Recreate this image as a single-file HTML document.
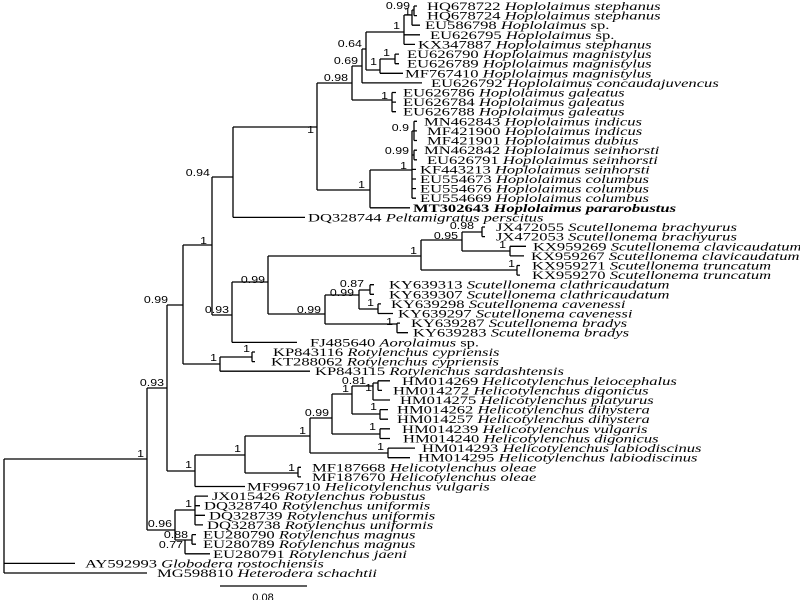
<!DOCTYPE html>
<html><head><meta charset="utf-8"><style>
html,body{margin:0;padding:0;background:#fff;}
svg{display:block;}
.t text{font-family:"Liberation Serif",serif;font-size:12px;fill:#000;transform-box:fill-box;transform-origin:0% 50%;transform:scaleX(1.38);}
.t tspan.i{font-style:italic;}
.s text{font-family:"Liberation Sans",sans-serif;font-size:10.5px;fill:#000;text-anchor:end;transform-box:fill-box;transform-origin:100% 50%;transform:scaleX(1.18);}
</style></head><body>
<svg width="800" height="600" viewBox="0 0 800 600" xmlns="http://www.w3.org/2000/svg">
<g fill="none" stroke="#000" stroke-width="1.3">
<path d="M212 177V315M212 177H233M233 127V217.4M233 217.4H305M233 127H317M317 83V190
M317 83H352M352 66V100M352 100H392M392 92.5V111.7M392 92.5H396M392 102.1H396M392 111.7H396
M352 66H362M362 49V82.9M362 82.9H422
M362 49H366M366 32V70M366 70H380M380 59V73.3M380 59H395M395 54.1V63.7M395 54.1H399M395 63.7H399M380 73.3H403
M366 32H404M404 15V44.4M404 44.4H415M404 34.8H420M404 15H412M412 10V25.2M412 25.2H420M412 10H414M414 6V15.6M414 6H417M414 15.6H417
M317 190H370M370 170V207.8M370 207.8H410M370 170H412M412 131V198.2
M412 169.4H416M412 179H416M412 188.6H416M412 198.2H416
M412 131H414M414 121.3V140.5M414 121.3H417M414 130.9H417M414 140.5H417
M412 155H414M414 150.2V159.8M414 150.2H417M414 159.8H417"/>
<path d="M183 245V364M183 245H212M167 305H183M167 305V471
M212 315H232M232 282V342.4M232 342.4H297M232 282H268M268 256V314
M268 256H421M421 240V270M421 240H462M462 232V251M462 232H482M482 227V236.6M482 227H485M482 236.6H485
M462 251H510M510 246.3V255.9M510 246.3H526M510 255.9H524M421 270H517M517 265.5V275.1M517 265.5H520M517 275.1H520
M268 314H325M325 295V324M325 295H359M359 290V309M359 290H370M370 284.7V294.3M370 284.7H374M370 294.3H374
M359 309H378M378 303.9V313.5M378 303.9H381M378 313.5H393
M325 324H397M397 323.1V332.7M397 323.1H400M397 332.7H408
M183 364H220M220 357V371.2M220 357H252M252 352V361.6M252 352H255M252 361.6H255M220 371.2H310"/>
<path d="M147 388H167M147 388V530M4 459H147M4 459V573M4 563.4H75M4 573H147
M167 471H195M195 455V486.5M195 486.5H245M195 455H245M245 436V473M245 473H298M298 467.3V476.9M298 467.3H301M298 476.9H301
M245 436H310M310 418V453M310 453H388M388 448.1V457.7M388 448.1H415M388 457.7H410
M310 418H332M332 394V434M332 434H380M380 428.8V438.5M380 428.8H390M380 438.5H390
M332 394H352M352 386V414M352 414H380M380 409.6V419.2M380 409.6H388M380 419.2H388
M352 386H373M373 383V400M373 400H390M373 383H378M378 380.8V390.4M378 380.8H390M378 390.4H382
M147 530H175M175 510V540M175 510H195M195 496.1V524.9M195 496.1H208M195 505.7H200M195 515.3H205M195 524.9H203
M175 540H185M185 540V553.8M185 553.8H210M185 540H192M192 534.6V544.2M192 534.6H196M192 544.2H196
M220 586H307"/>
</g>
<g class="t">
<text x="427" y="10">HQ678722 <tspan class="i">Hoplolaimus stephanus</tspan></text>
<text x="427" y="19.6">HQ678724 <tspan class="i">Hoplolaimus stephanus</tspan></text>
<text x="425" y="29.2">EU586798 <tspan class="i">Hoplolaimus</tspan> sp.</text>
<text x="430" y="38.8">EU626795 <tspan class="i">Hoplolaimus</tspan> sp.</text>
<text x="418" y="48.4">KX347887 <tspan class="i">Hoplolaimus stephanus</tspan></text>
<text x="407" y="58.1">EU626790 <tspan class="i">Hoplolaimus magnistylus</tspan></text>
<text x="407" y="67.7">EU626789 <tspan class="i">Hoplolaimus magnistylus</tspan></text>
<text x="405" y="77.3">MF767410 <tspan class="i">Hoplolaimus magnistylus</tspan></text>
<text x="431" y="86.9">EU626792 <tspan class="i">Hoplolaimus concaudajuvencus</tspan></text>
<text x="403" y="96.5">EU626786 <tspan class="i">Hoplolaimus galeatus</tspan></text>
<text x="403" y="106.1">EU626784 <tspan class="i">Hoplolaimus galeatus</tspan></text>
<text x="403" y="115.7">EU626788 <tspan class="i">Hoplolaimus galeatus</tspan></text>
<text x="424" y="125.3">MN462843 <tspan class="i">Hoplolaimus indicus</tspan></text>
<text x="427" y="134.9">MF421900 <tspan class="i">Hoplolaimus indicus</tspan></text>
<text x="427" y="144.5">MF421901 <tspan class="i">Hoplolaimus dubius</tspan></text>
<text x="424" y="154.2">MN462842 <tspan class="i">Hoplolaimus seinhorsti</tspan></text>
<text x="427" y="163.8">EU626791 <tspan class="i">Hoplolaimus seinhorsti</tspan></text>
<text x="420" y="173.4">KF443213 <tspan class="i">Hoplolaimus seinhorsti</tspan></text>
<text x="420" y="183">EU554673 <tspan class="i">Hoplolaimus columbus</tspan></text>
<text x="420" y="192.6">EU554676 <tspan class="i">Hoplolaimus columbus</tspan></text>
<text x="420" y="202.2">EU554669 <tspan class="i">Hoplolaimus columbus</tspan></text>
<text x="413" y="211.8" font-weight="bold">MT302643 <tspan class="i">Hoplolaimus pararobustus</tspan></text>
<text x="308" y="221.4">DQ328744 <tspan class="i">Peltamigratus perscitus</tspan></text>
<text x="496" y="231">JX472055 <tspan class="i">Scutellonema brachyurus</tspan></text>
<text x="496" y="240.6">JX472053 <tspan class="i">Scutellonema brachyurus</tspan></text>
<text x="533" y="250.3">KX959269 <tspan class="i">Scutellonema clavicaudatum</tspan></text>
<text x="531" y="259.9">KX959267 <tspan class="i">Scutellonema clavicaudatum</tspan></text>
<text x="532" y="269.5">KX959271 <tspan class="i">Scutellonema truncatum</tspan></text>
<text x="532" y="279.1">KX959270 <tspan class="i">Scutellonema truncatum</tspan></text>
<text x="389" y="288.7">KY639313 <tspan class="i">Scutellonema clathricaudatum</tspan></text>
<text x="389" y="298.3">KY639307 <tspan class="i">Scutellonema clathricaudatum</tspan></text>
<text x="391" y="307.9">KY639298 <tspan class="i">Scutellonema cavenessi</tspan></text>
<text x="398" y="317.5">KY639297 <tspan class="i">Scutellonema cavenessi</tspan></text>
<text x="411" y="327.1">KY639287 <tspan class="i">Scutellonema bradys</tspan></text>
<text x="413" y="336.7">KY639283 <tspan class="i">Scutellonema bradys</tspan></text>
<text x="310" y="346.4">FJ485640 <tspan class="i">Aorolaimus</tspan> sp.</text>
<text x="273" y="356">KP843116 <tspan class="i">Rotylenchus cypriensis</tspan></text>
<text x="271" y="365.6">KT288062 <tspan class="i">Rotylenchus cypriensis</tspan></text>
<text x="315" y="375.2">KP843115 <tspan class="i">Rotylenchus sardashtensis</tspan></text>
<text x="402" y="384.8">HM014269 <tspan class="i">Helicotylenchus leiocephalus</tspan></text>
<text x="393" y="394.4">HM014272 <tspan class="i">Helicotylenchus digonicus</tspan></text>
<text x="400" y="404">HM014275 <tspan class="i">Helicotylenchus platyurus</tspan></text>
<text x="397" y="413.6">HM014262 <tspan class="i">Helicotylenchus dihystera</tspan></text>
<text x="397" y="423.2">HM014257 <tspan class="i">Helicotylenchus dihystera</tspan></text>
<text x="402" y="432.8">HM014239 <tspan class="i">Helicotylenchus vulgaris</tspan></text>
<text x="403" y="442.5">HM014240 <tspan class="i">Helicotylenchus digonicus</tspan></text>
<text x="422" y="452.1">HM014293 <tspan class="i">Helicotylenchus labiodiscinus</tspan></text>
<text x="418" y="461.7">HM014295 <tspan class="i">Helicotylenchus labiodiscinus</tspan></text>
<text x="312" y="471.3">MF187668 <tspan class="i">Helicotylenchus oleae</tspan></text>
<text x="312" y="480.9">MF187670 <tspan class="i">Helicotylenchus oleae</tspan></text>
<text x="247" y="490.5">MF996710 <tspan class="i">Helicotylenchus vulgaris</tspan></text>
<text x="212" y="500.1">JX015426 <tspan class="i">Rotylenchus robustus</tspan></text>
<text x="204" y="509.7">DQ328740 <tspan class="i">Rotylenchus uniformis</tspan></text>
<text x="209" y="519.3">DQ328739 <tspan class="i">Rotylenchus uniformis</tspan></text>
<text x="207" y="528.9">DQ328738 <tspan class="i">Rotylenchus uniformis</tspan></text>
<text x="203" y="538.6">EU280790 <tspan class="i">Rotylenchus magnus</tspan></text>
<text x="203" y="548.2">EU280789 <tspan class="i">Rotylenchus magnus</tspan></text>
<text x="213" y="557.8">EU280791 <tspan class="i">Rotylenchus jaeni</tspan></text>
<text x="85" y="567.4">AY592993 <tspan class="i">Globodera rostochiensis</tspan></text>
<text x="157" y="577">MG598810 <tspan class="i">Heterodera schachtii</tspan></text>
</g>
<g class="s">
<text x="410" y="9">0.99</text><text x="411" y="15">1</text><text x="400" y="29">1</text>
<text x="362" y="47">0.64</text><text x="377" y="65">1</text><text x="390" y="56">1</text>
<text x="358" y="64">0.69</text><text x="348" y="81">0.98</text><text x="388" y="99">1</text>
<text x="314" y="133">1</text><text x="409" y="131">0.9</text><text x="409" y="154">0.99</text>
<text x="407" y="169">1</text><text x="365" y="188">1</text><text x="210" y="176">0.94</text>
<text x="207" y="244">1</text><text x="229" y="313">0.93</text><text x="265" y="283">0.99</text>
<text x="417" y="254">1</text><text x="458" y="239">0.95</text><text x="474" y="229">0.98</text>
<text x="506" y="248">1</text><text x="515" y="267">1</text><text x="364" y="287">0.87</text>
<text x="354" y="296">0.99</text><text x="374" y="306">1</text><text x="321" y="313">0.99</text>
<text x="393" y="325">1</text><text x="168" y="303">0.99</text><text x="217" y="361">1</text>
<text x="250" y="352">1</text><text x="164" y="386">0.93</text><text x="144" y="457">1</text>
<text x="192" y="468">1</text><text x="241" y="452">1</text><text x="306" y="434">1</text>
<text x="329" y="416">0.99</text><text x="349" y="392">1</text><text x="366" y="384">0.81</text>
<text x="372" y="391">1</text><text x="377" y="410">1</text><text x="376" y="430">1</text>
<text x="384" y="450">1</text><text x="295" y="471">1</text><text x="192" y="507">1</text>
<text x="172" y="527">0.96</text><text x="188" y="538">0.88</text><text x="183" y="548">0.77</text>
</g>
<text x="263" y="601" font-family="Liberation Sans, sans-serif" font-size="11" text-anchor="middle">0.08</text>
</svg>
</body></html>
